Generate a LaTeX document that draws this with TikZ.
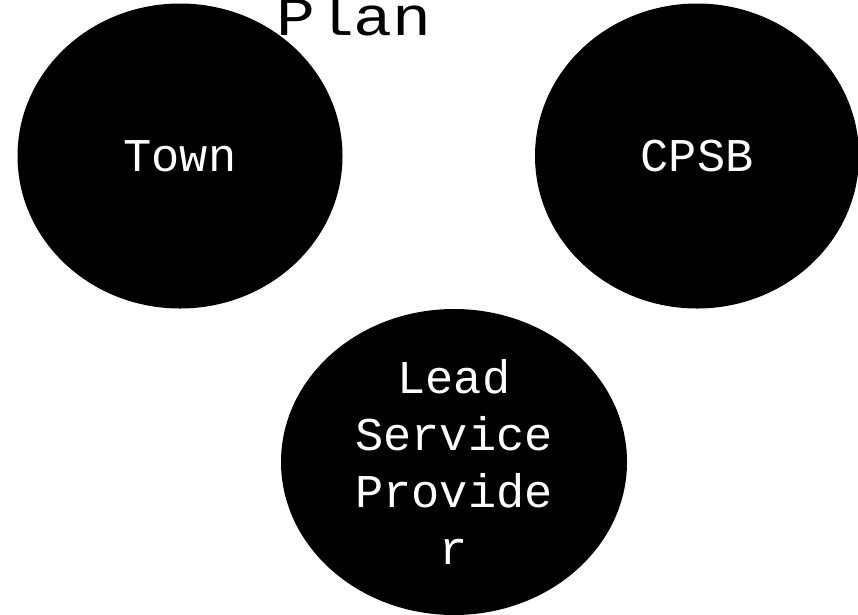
\documentclass[tikz,border=0pt]{standalone}
\usepackage{graphicx}
\usepackage{fontspec}
\setmonofont{Liberation Mono}
\usetikzlibrary{shapes.geometric}
\begin{document}
\begin{tikzpicture}[x=1pt,y=-1pt,
  blob/.style={ellipse, fill=black, draw=none, inner sep=0pt, text=white,
    font=\ttfamily\fontsize{47}{57}\selectfont, align=center},
  titletext/.style={font=\ttfamily\fontsize{55}{60}\selectfont, text=black, inner sep=0pt}]
\useasboundingbox (0,0) rectangle (858,614);
\node[titletext, anchor=base] (plan) at (354,35) {\scalebox{1.18}[1]{Plan}};
\node[blob, minimum width=325pt, minimum height=305pt] (town) at (180,156) {Town};
\node[blob, minimum width=324pt, minimum height=305pt] (cpsb) at (697,156) {CPSB};
\node[blob, minimum width=346pt, minimum height=306pt] (lsp) at (454,462) {Lead\\Service\\Provide\\r};
\end{tikzpicture}
\end{document}
